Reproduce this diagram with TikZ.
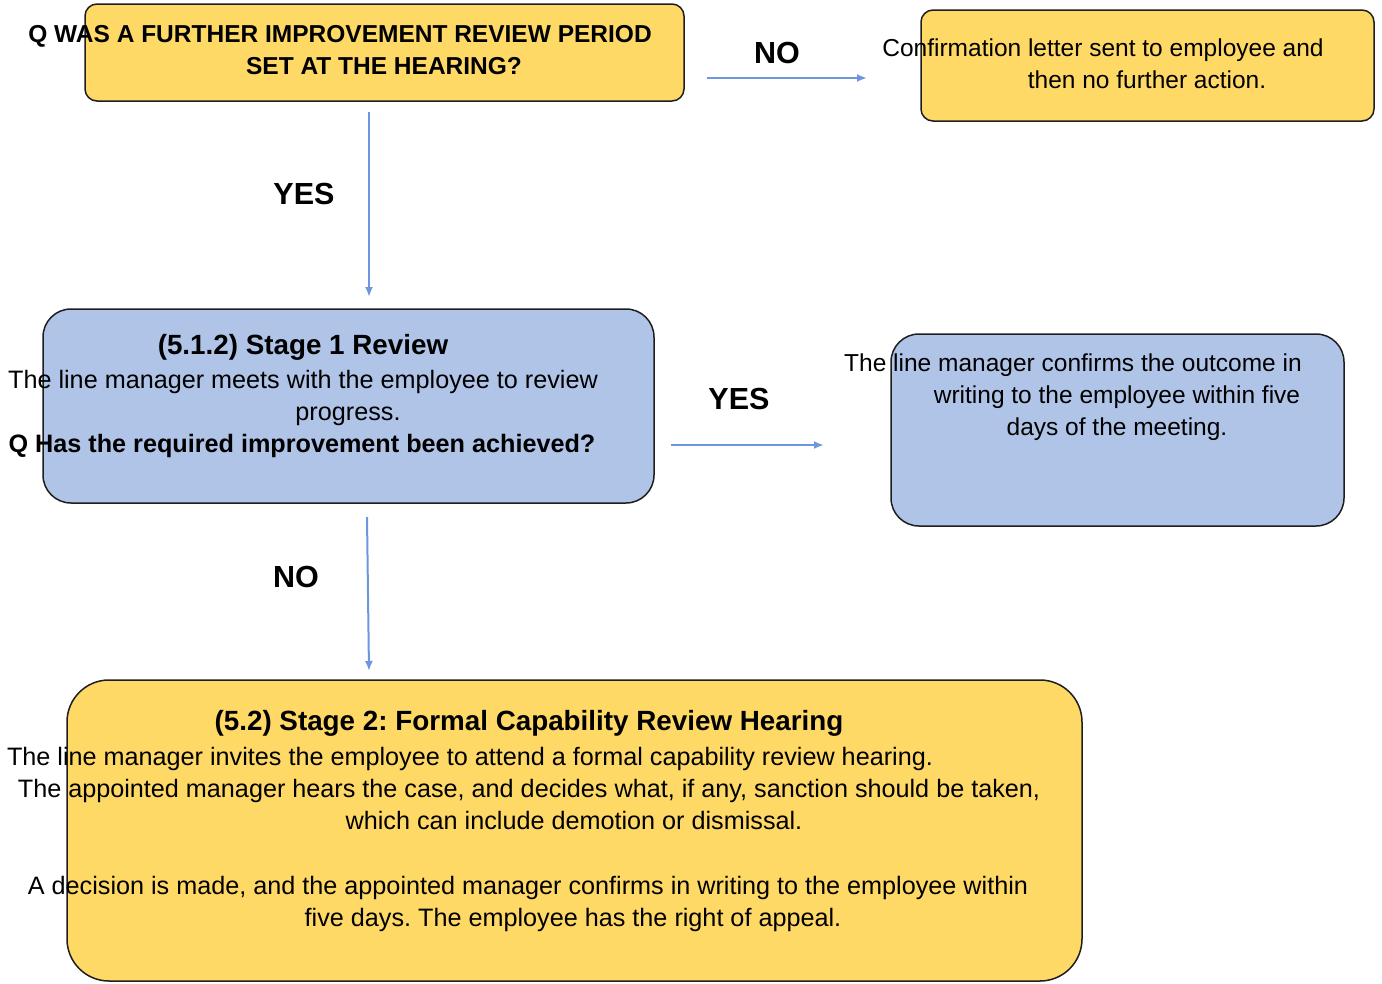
\documentclass[tikz,border=0pt]{standalone}
\usepackage{fontspec}
\setmainfont{Liberation Sans}
\usetikzlibrary{arrows.meta}
\frenchspacing
\definecolor{ybox}{RGB}{255,217,102}
\definecolor{bbox}{RGB}{176,196,232}
\definecolor{arrc}{RGB}{109,150,222}
\definecolor{edge}{RGB}{30,30,30}
\tikzset{
  boxbase/.style={draw=edge, line width=1.5pt, inner sep=0pt},
  yelbox/.style={boxbase, fill=ybox},
  blubox/.style={boxbase, fill=bbox},
  txt/.style={anchor=base, inner sep=0pt, font=\fontsize{24.5}{32}\selectfont},
  txtl/.style={anchor=base, inner sep=0pt, font=\fontsize{25.2}{32}\selectfont},
  btxt/.style={txt, font=\fontsize{24.5}{32}\selectfont\bfseries},
  btxtl/.style={txt, font=\fontsize{25.2}{32}\selectfont\bfseries},
  ttl/.style={txt, font=\fontsize{27.8}{34}\selectfont\bfseries},
  lbl/.style={anchor=base, inner sep=0pt, font=\fontsize{30.5}{36}\selectfont\bfseries},
  arr/.style={draw=arrc, line width=2pt, -{Latex[length=10pt,width=8pt]}}
}
\begin{document}
\begin{tikzpicture}[x=1pt,y=-1pt]
\useasboundingbox (0,0) rectangle (1382,983);
% boxes
\node[yelbox, rounded corners=12pt, minimum width=599pt, minimum height=97pt] (q1) at (384.5,52.5) {};
\node[yelbox, rounded corners=12pt, minimum width=453pt, minimum height=111pt] (conf) at (1147.5,65.5) {};
\node[blubox, rounded corners=28pt, minimum width=611pt, minimum height=194pt] (s1) at (348.5,406) {};
\node[blubox, rounded corners=28pt, minimum width=453pt, minimum height=192pt] (outc) at (1117.5,430) {};
\node[yelbox, rounded corners=42pt, minimum width=1015pt, minimum height=301pt] (s2) at (574.5,830.5) {};
% texts
\node[btxt] (q1a) at (340,42) {Q WAS A FURTHER IMPROVEMENT REVIEW PERIOD};
\node[btxt] (q1b) at (384,74) {SET AT THE HEARING?};
\node[txt] (c1) at (1103,56) {Confirmation letter sent to employee and};
\node[txt] (c2) at (1147,88) {then no further action.};
\node[ttl] (s1a) at (303,354) {(5.1.2) Stage 1 Review};
\node[txtl] (s1b) at (303,388) {The line manager meets with the employee to review};
\node[txtl] (s1c) at (348,420) {progress.};
\node[btxtl] (s1d) at (302,452) {Q Has the required improvement been achieved?};
\node[txt] (o1) at (1073,371) {The line manager confirms the outcome in};
\node[txt] (o2) at (1117,403) {writing to the employee within five};
\node[txt] (o3) at (1117,435) {days of the meeting.};
\node[ttl] (t1) at (529,730) {(5.2) Stage 2: Formal Capability Review Hearing};
\node[txtl] (t2) at (470,765) {The line manager invites the employee to attend a formal capability review hearing.};
\node[txtl] (t3) at (529,797) {The appointed manager hears the case, and decides what, if any, sanction should be taken,};
\node[txtl] (t4) at (574,829) {which can include demotion or dismissal.};
\node[txtl] (t5) at (528,894) {A decision is made, and the appointed manager confirms in writing to the employee within};
\node[txtl] (t6) at (573,926) {five days. The employee has the right of appeal.};
% connector endpoints
\coordinate (a1s) at (707,78);
\coordinate (a1e) at (867,78);
\coordinate (a2s) at (369,112);
\coordinate (a2e) at (369,297);
\coordinate (a3s) at (671,445);
\coordinate (a3e) at (824,445);
\coordinate (a4s) at (367,517);
\coordinate (a4e) at (369,671);
\draw[arr] (a1s) -- (a1e);
\draw[arr] (a2s) -- (a2e);
\draw[arr] (a3s) -- (a3e);
\draw[arr] (a4s) -- (a4e);
% labels
\node[lbl] (l1) at (777,63) {NO};
\node[lbl] (l2) at (304,204) {YES};
\node[lbl] (l3) at (739,409) {YES};
\node[lbl] (l4) at (296,587) {NO};
\end{tikzpicture}
\end{document}
